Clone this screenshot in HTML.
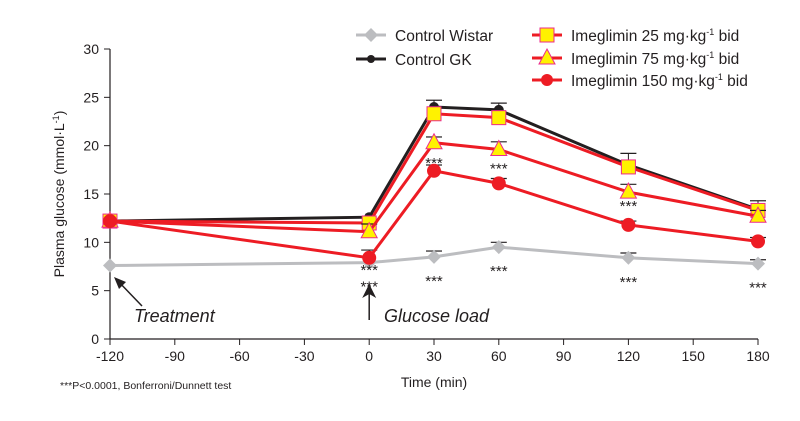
<!DOCTYPE html>
<html><head><meta charset="utf-8"><style>
body{margin:0;background:#fff;}
svg text{font-family:"Liberation Sans",sans-serif;fill:#231f20;}
</style></head><body>
<svg id="chart" width="800" height="416" viewBox="0 0 800 416" xmlns="http://www.w3.org/2000/svg">
<g id="axes"></g><g id="series"></g><g id="notes"></g><g id="legend"></g>
</svg>
<script>
const times = [-120, 0, 30, 60, 120, 180];
const xTicks = [-120, -90, -60, -30, 0, 30, 60, 90, 120, 150, 180];
const yTicks = [0, 5, 10, 15, 20, 25, 30];
const wistar = [7.6, 7.9, 8.5, 9.5, 8.4, 7.8];
const wistarErr = [0, 0, 0.6, 0.5, 0.5, 0.4];
const gk = [12.2, 12.6, 24.0, 23.7, 18.0, 13.4];
const gkErr = [0, 0, 0.7, 0.7, 1.2, 0.9];
const ime25 = [12.2, 12.0, 23.3, 22.9, 17.8, 13.3];
const ime25Err = [0, 0, 0, 0, 0, 0];
const ime75 = [12.2, 11.1, 20.3, 19.6, 15.2, 12.7];
const ime75Err = [0, 0.8, 0.6, 0.8, 0.8, 0.6];
const ime150 = [12.2, 8.4, 17.4, 16.1, 11.8, 10.1];
const ime150Err = [0, 0.8, 0.6, 0.5, 0.4, 0.4];

const NS = "http://www.w3.org/2000/svg";
const X = t => 110 + (t + 120) * 648 / 300;
const Y = v => 339 - v * 290 / 30;
function mk(tag, attrs, parent, text) {
  const e = document.createElementNS(NS, tag);
  for (const k in attrs) e.setAttribute(k, attrs[k]);
  if (text !== undefined) e.textContent = text;
  parent.appendChild(e);
  return e;
}
const axes = document.getElementById('axes');
let e;
e = mk('line', {x1:110, y1:Y(30), x2:110, y2:339, stroke:'#231f20', 'stroke-width':1.2}, axes);


e = mk('line', {x1:110, y1:339, x2:X(180), y2:339, stroke:'#231f20', 'stroke-width':1.2}, axes);


yTicks.forEach(v => {
  mk('line', {x1:104, y1:Y(v), x2:110, y2:Y(v), stroke:'#231f20'}, axes);
  e = mk('text', {x:99, y:Y(v) + 5, 'text-anchor':'end', 'font-size':14}, axes, v);
  
  
});
xTicks.forEach(t => {
  mk('line', {x1:X(t), y1:339, x2:X(t), y2:345, stroke:'#231f20'}, axes);
  e = mk('text', {x:X(t), y:361, 'text-anchor':'middle', 'font-size':14}, axes, t);
  
  
});
e = mk('text', {x:434, y:387, 'text-anchor':'middle', 'font-size':14}, axes, 'Time (min)');


e = mk('text', {x:0, y:0, 'text-anchor':'middle', 'font-size':14, transform:'translate(64,194) rotate(-90)'}, axes);


e.innerHTML = 'Plasma glucose (mmol·L<tspan dy="-5" font-size="9">-1</tspan><tspan dy="5">)</tspan>';

const series = document.getElementById('series');
function marker(kind, x, y, g) {
  if (kind === 'diamond') return mk('path', {d:`M${x} ${y-7}L${x+7} ${y}L${x} ${y+7}L${x-7} ${y}Z`, fill:'#bcbdc0'}, g);
  if (kind === 'dot') return mk('circle', {cx:x, cy:y, r:5, fill:'#231f20'}, g);
  if (kind === 'square') return mk('rect', {x:x-7, y:y-7, width:14, height:14, fill:'#fff200', stroke:'#ec2a8c', 'stroke-width':1}, g);
  if (kind === 'tri') return mk('path', {d:`M${x} ${y-9}L${x+8} ${y+6}L${x-8} ${y+6}Z`, fill:'#fff200', stroke:'#ec2a8c', 'stroke-width':1}, g);
  return mk('circle', {cx:x, cy:y, r:7, fill:'#ed1c24'}, g);
}
function drawSeries(name, vals, errs, color, kind) {
  const g = mk('g', {}, series);
  
  
  vals.forEach((v, i) => {
    if (errs[i] > 0) {
      mk('line', {x1:X(times[i]), y1:Y(v), x2:X(times[i]), y2:Y(v + errs[i]), stroke:'#231f20', 'stroke-width':1}, g);
      mk('line', {x1:X(times[i]) - 8, y1:Y(v + errs[i]), x2:X(times[i]) + 8, y2:Y(v + errs[i]), stroke:'#231f20', 'stroke-width':1.2}, g);
    }
  });
  mk('polyline', {points: vals.map((v, i) => X(times[i]) + ',' + Y(v)).join(' '), fill:'none', stroke:color, 'stroke-width':3}, g);
  vals.forEach((v, i) => {
    const m = marker(kind, X(times[i]), Y(v), g);
    
    
  });
}
drawSeries('series-control-wistar', wistar, wistarErr, '#bcbdc0', 'diamond');
drawSeries('series-control-gk', gk, gkErr, '#231f20', 'dot');
drawSeries('series-imeglimin-25', ime25, ime25Err, '#ed1c24', 'square');
drawSeries('series-imeglimin-75', ime75, ime75Err, '#ed1c24', 'tri');
drawSeries('series-imeglimin-150', ime150, ime150Err, '#ed1c24', 'dot150');

const notes = document.getElementById('notes');
const starIdx = [[1, ime150, 17], [2, ime75, 25], [3, ime75, 24], [4, ime150, -14]];
starIdx.forEach(([i, arr, off]) => {
  e = mk('text', {x:X(times[i]), y:Y(arr[i]) + off, 'text-anchor':'middle', 'font-size':15}, notes, '***');
  
  
});
[1, 2, 3, 4, 5].forEach(i => {
  e = mk('text', {x:X(times[i]), y:Y(wistar[i]) + 29, 'text-anchor':'middle', 'font-size':15}, notes, '***');
  
  
});
// arrows
mk('line', {x1:X(-120)+32, y1:306, x2:X(-120)+6, y2:279, stroke:'#231f20', 'stroke-width':1.5}, notes);
mk('path', {d:`M${X(-120)+4} ${277}l12 5l-7 7z`, fill:'#231f20'}, notes);
e = mk('text', {x:134, y:322, 'font-size':18, 'font-style':'italic'}, notes, 'Treatment');


mk('line', {x1:X(0), y1:320, x2:X(0), y2:292, stroke:'#231f20', 'stroke-width':1.5}, notes);
mk('path', {d:`M${X(0)} 284l-7 14l7 -4l7 4z`, fill:'#231f20'}, notes);
e = mk('text', {x:384, y:322, 'font-size':18, 'font-style':'italic'}, notes, 'Glucose load');


e = mk('text', {x:60, y:389, 'font-size':10.5}, notes, '***P<0.0001, Bonferroni/Dunnett test');



const legend = document.getElementById('legend');
const legItems = [
  ['Control Wistar', '#bcbdc0', 'diamond', 356, 35],
  ['Control GK', '#231f20', 'dot', 356, 59],
  ['Imeglimin 25 mg·kg', '#ed1c24', 'square', 532, 35],
  ['Imeglimin 75 mg·kg', '#ed1c24', 'tri', 532, 58],
  ['Imeglimin  150 mg·kg', '#ed1c24', 'dot150', 532, 80]
];
legItems.forEach(([label, color, kind, x, y], k) => {
  const g = mk('g', {}, legend);
  
  
  mk('line', {x1:x, y1:y, x2:x+30, y2:y, stroke:color, 'stroke-width':3}, g);
  const m = marker(kind, x + 15, y, g);
  if (kind === 'dot') m.setAttribute('r', 4);
  if (kind === 'dot150') m.setAttribute('r', 6);
  const t = mk('text', {x:x + 39, y:y + 6, 'font-size':15.5}, g);
  if (k >= 2) t.innerHTML = label + '<tspan dy="-6" font-size="9">-1</tspan><tspan dy="6"> bid</tspan>';
  else t.textContent = label;
});
</script>
</body></html>
